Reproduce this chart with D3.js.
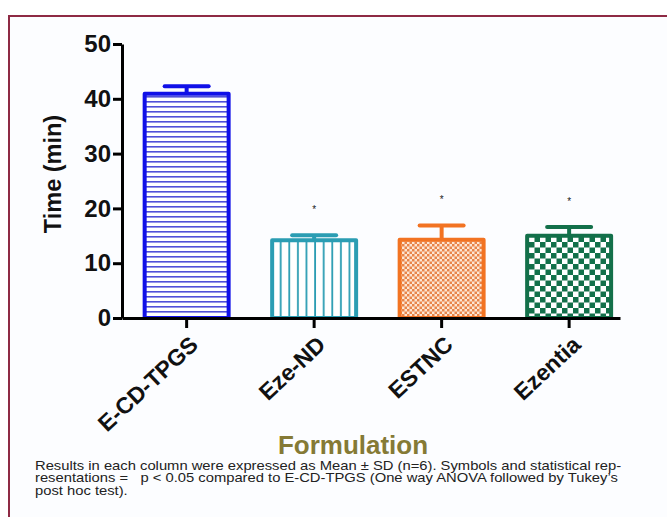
<!DOCTYPE html>
<html><head>
<meta charset="utf-8">
<script src="https://d3js.org/d3.v7.min.js"></script>
<style>
  body { margin: 0; background: #fff; }
  svg { display: block; font-family: "Liberation Sans", Arial, sans-serif; }
</style>
</head>
<body>
<svg id="chart" width="667" height="517"></svg>
<script>
// data
const formulations = ["E-CD-TPGS", "Eze-ND", "ESTNC", "Ezentia"];
const meanTime = [40.9, 14.2, 14.3, 15.0];
const sdTime = [1.4, 0.9, 2.6, 1.6];
const significant = [false, true, true, true];
const yTicks = [0, 10, 20, 30, 40, 50];
const barColors = ["#1010e8", "#2b9db3", "#f27322", "#13704a"];

const svg = d3.select("#chart");
const margin = { top: 44, left: 122, right: 47, bottom: 199 };
const plotW = 667 - margin.left - margin.right;
const plotH = 517 - margin.top - margin.bottom;

// frame around the figure (cut off at the right and bottom)
svg.append("rect").attr("x", 9).attr("y", 16).attr("width", 700).attr("height", 560)
   .attr("fill", "#fcfdff").attr("stroke", "#8e2a44").attr("stroke-width", 2);

// fill patterns
const defs = svg.append("defs");
let p = defs.append("pattern").attr("id", "p0").attr("patternUnits", "userSpaceOnUse")
  .attr("width", 10).attr("height", 5);
p.append("rect").attr("width", 10).attr("height", 5).attr("fill", "#fff");
p.append("rect").attr("y", 2).attr("width", 10).attr("height", 1.6).attr("fill", "#5050d8");

p = defs.append("pattern").attr("id", "p1").attr("patternUnits", "userSpaceOnUse")
  .attr("width", 8.6).attr("height", 10);
p.append("rect").attr("width", 8.6).attr("height", 10).attr("fill", "#fff");
p.append("rect").attr("x", 3).attr("width", 1.8).attr("height", 10).attr("fill", "#2b9db3");

p = defs.append("pattern").attr("id", "p2").attr("patternUnits", "userSpaceOnUse")
  .attr("width", 5).attr("height", 5);
p.append("rect").attr("width", 5).attr("height", 5).attr("fill", "#fde6d2");
p.append("rect").attr("width", 2.5).attr("height", 2.5).attr("fill", "#e8844a");
p.append("rect").attr("x", 2.5).attr("y", 2.5).attr("width", 2.5).attr("height", 2.5).attr("fill", "#e8844a");

p = defs.append("pattern").attr("id", "p3").attr("patternUnits", "userSpaceOnUse")
  .attr("width", 11).attr("height", 11);
p.append("rect").attr("width", 11).attr("height", 11).attr("fill", "#fff");
p.append("rect").attr("width", 5.5).attr("height", 5.5).attr("fill", "#13704a");
p.append("rect").attr("x", 5.5).attr("y", 5.5).attr("width", 5.5).attr("height", 5.5).attr("fill", "#13704a");

const g = svg.append("g").attr("transform", "translate(" + margin.left + "," + margin.top + ")");

const x = d3.scaleBand().domain(formulations).range([0, plotW])
  .paddingInner(0.31).paddingOuter(0.108).align(0.75);
const y = d3.scaleLinear().domain([0, 50]).range([plotH, 0]);

// bars
g.selectAll("rect.bar").data(formulations)
  .join("rect")
  .attr("class", "bar")
  .attr("x", d => x(d) + 2)
  .attr("width", x.bandwidth() - 4)
  .attr("y", (d, i) => y(meanTime[i]))
  .attr("height", (d, i) => plotH - y(meanTime[i]))
  .attr("fill", (d, i) => "url(#p" + i + ")")
  .attr("stroke", (d, i) => barColors[i])
  .attr("stroke-width", 4)
  .attr("stroke-linejoin", "round");

// error bars (upper half only)
const eb = g.selectAll("g.err").data(formulations).join("g").attr("class", "err")
  .attr("stroke", (d, i) => barColors[i]).attr("stroke-width", 4);
eb.append("line")
  .attr("x1", d => x(d) + x.bandwidth() / 2).attr("x2", d => x(d) + x.bandwidth() / 2)
  .attr("y1", (d, i) => y(meanTime[i])).attr("y2", (d, i) => y(meanTime[i] + sdTime[i]));
eb.append("line")
  .attr("stroke-linecap", "round")
  .attr("x1", d => x(d) + x.bandwidth() / 2 - 22).attr("x2", d => x(d) + x.bandwidth() / 2 + 22)
  .attr("y1", (d, i) => y(meanTime[i] + sdTime[i])).attr("y2", (d, i) => y(meanTime[i] + sdTime[i]));

// significance marks
g.selectAll("text.star").data(formulations.filter((d, i) => significant[i]))
  .join("text")
  .attr("class", "star")
  .attr("x", d => x(d) + x.bandwidth() / 2)
  .attr("y", d => { const i = formulations.indexOf(d); return y(meanTime[i] + sdTime[i]) - 22; })
  .attr("text-anchor", "middle")
  .attr("font-size", 10)
  .attr("fill", "#222")
  .text("*");

// axes
const yAxis = g.append("g").call(d3.axisLeft(y).tickValues(yTicks).tickSize(9).tickSizeOuter(0));
yAxis.select(".domain").attr("stroke-width", 3);
yAxis.selectAll(".tick line").attr("stroke-width", 3);
yAxis.selectAll(".tick text").attr("font-size", 24).attr("font-weight", "bold").attr("fill", "#111").attr("x", -11);

const xAxis = g.append("g").attr("transform", "translate(0," + plotH + ")")
  .call(d3.axisBottom(x).tickSize(10).tickSizeOuter(0));
xAxis.select(".domain").attr("stroke-width", 3);
xAxis.selectAll(".tick line").attr("stroke-width", 3);
xAxis.selectAll(".tick text")
  .attr("font-size", 23).attr("font-weight", "bold").attr("fill", "#111")
  .attr("text-anchor", "end").attr("dy", 0)
  .attr("transform", "translate(4,19) rotate(-43)");

// axis titles
svg.append("text")
  .attr("transform", "translate(61," + (margin.top + plotH / 2 - 7) + ") rotate(-90)")
  .attr("text-anchor", "middle").attr("font-size", 23.5).attr("font-weight", "bold").attr("fill", "#111")
  .text("Time (min)");

svg.append("text")
  .attr("x", 353).attr("y", 454)
  .attr("text-anchor", "middle").attr("font-size", 26).attr("font-weight", "bold").attr("fill", "#857a35")
  .text("Formulation");

// caption
const caption = [
  "Results in each column were expressed as Mean \u00b1 SD (n=6). Symbols and statistical rep-",
  "resentations = \u00a0\u00a0p < 0.05 compared to E-CD-TPGS (One way ANOVA followed by Tukey\u2019s",
  "post hoc test)."
];
svg.append("g").attr("transform", "translate(35,0) scale(1.182,1)")
  .selectAll("text").data(caption).join("text")
  .attr("x", 0).attr("y", (d, i) => 470 + i * 12.5)
  .attr("font-size", 12.5).attr("fill", "#222")
  .text(d => d);
</script>
</body>
</html>
